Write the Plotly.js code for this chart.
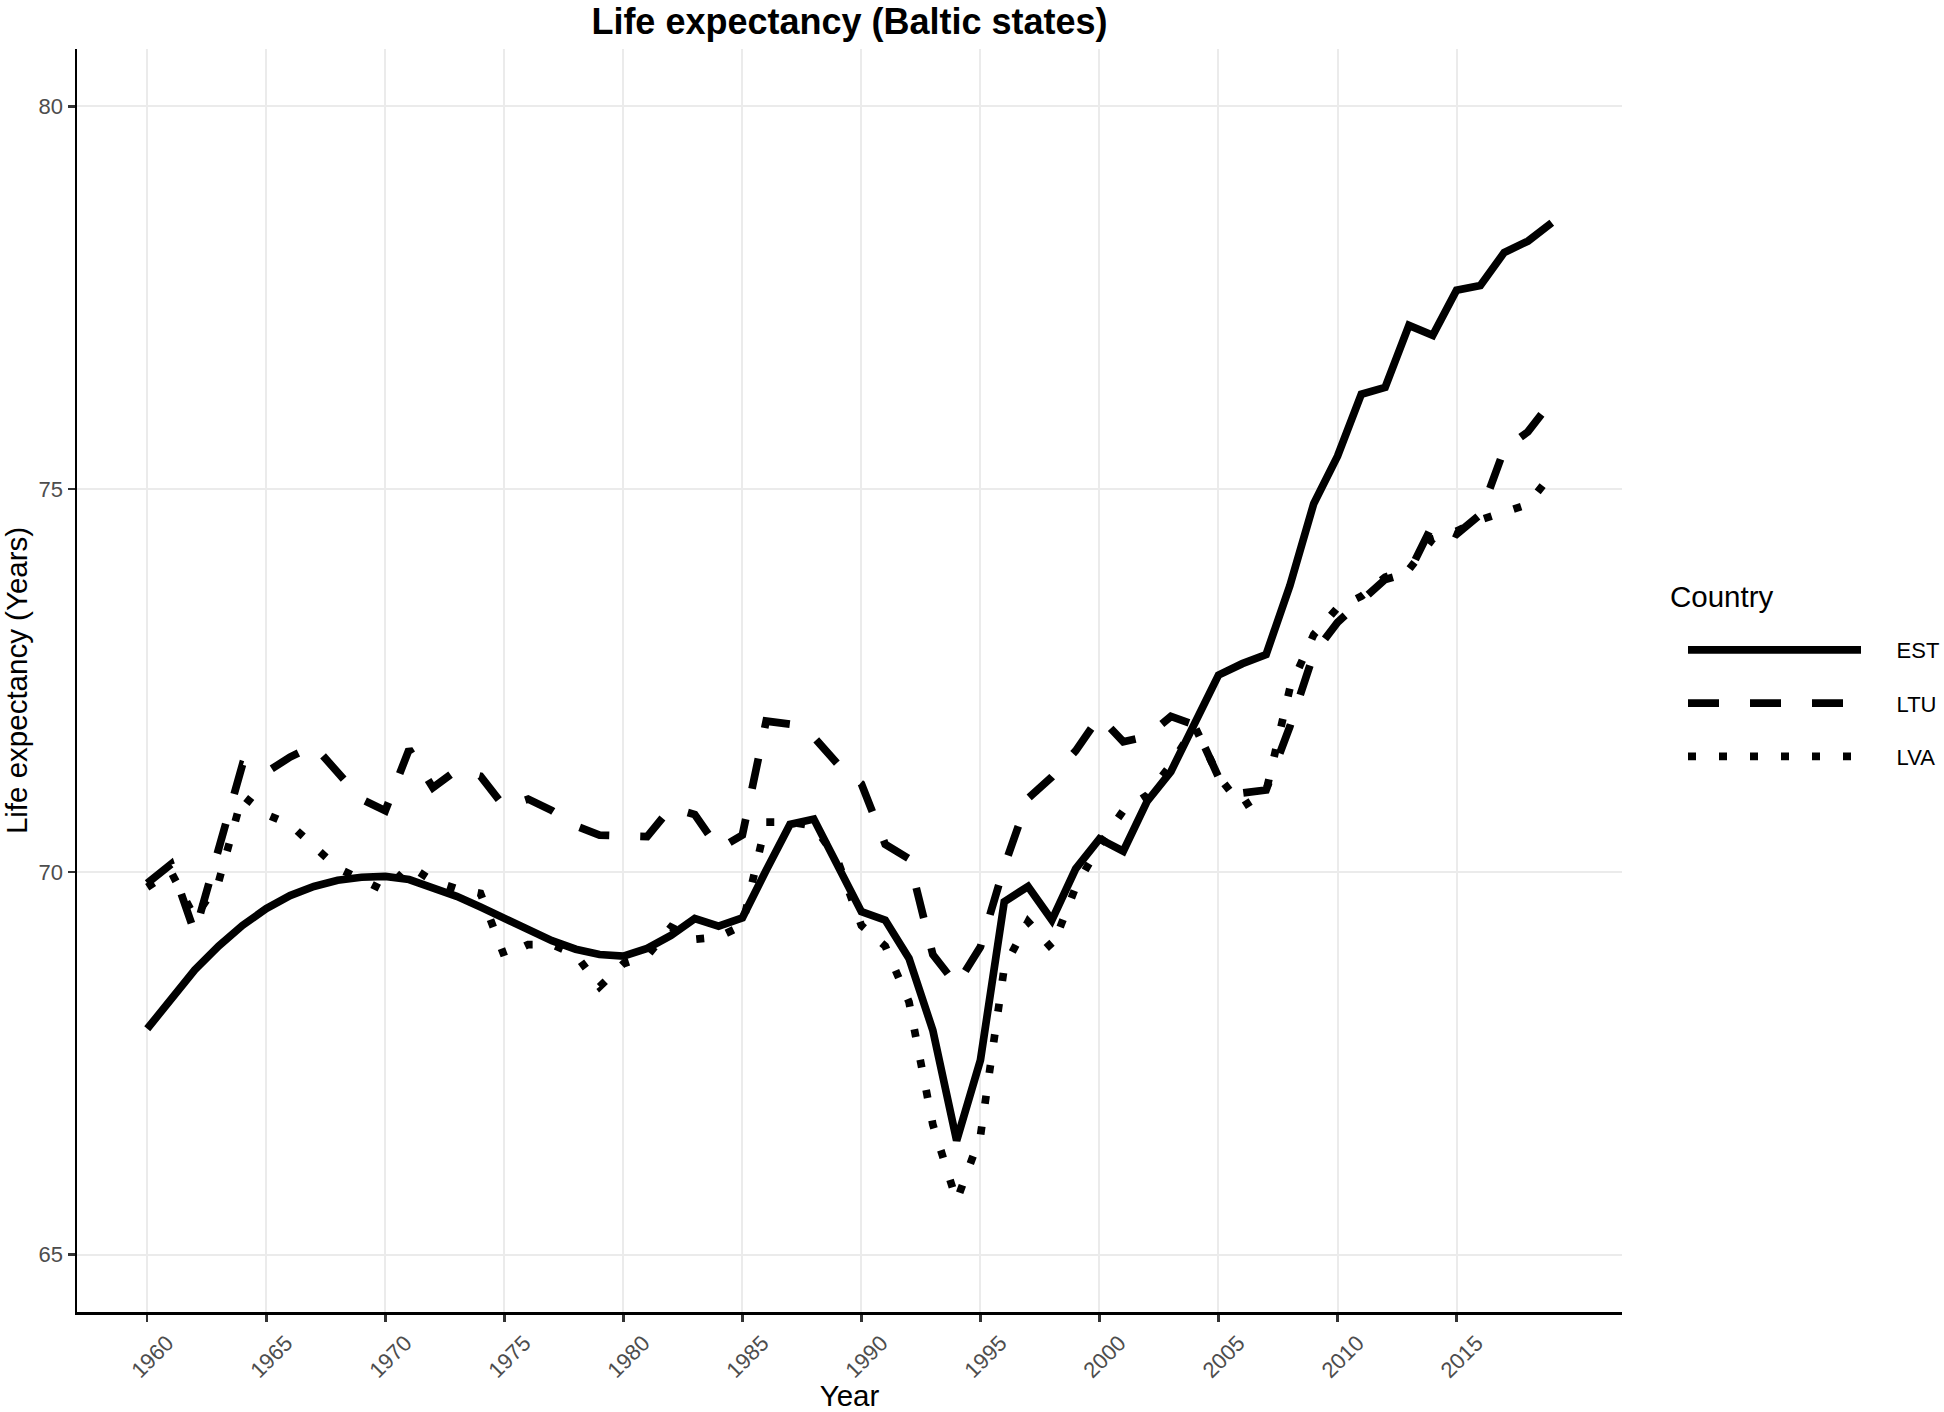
<!DOCTYPE html>
<html><head><meta charset="utf-8">
<script src="https://cdn.plot.ly/plotly-3.0.1.min.js"></script>
<style>html,body{margin:0;padding:0;background:#fff}#chart{width:1944px;height:1412px}</style>
</head><body><div id="chart"></div>
<script>
const years = [1960,1961,1962,1963,1964,1965,1966,1967,1968,1969,1970,1971,1972,1973,1974,1975,1976,1977,1978,1979,
1980,1981,1982,1983,1984,1985,1986,1987,1988,1989,1990,1991,1992,1993,1994,1995,1996,1997,1998,1999,
2000,2001,2002,2003,2004,2005,2006,2007,2008,2009,2010,2011,2012,2013,2014,2015,2016,2017,2018,2019];

const est = [67.95,68.35,68.72,69.03,69.30,69.52,69.69,69.81,69.89,69.93,69.94,69.90,69.80,69.68,69.54,69.39,69.24,69.10,68.99,68.92,
68.90,69.00,69.17,69.39,69.29,69.40,70.02,70.62,70.69,70.08,69.48,69.37,68.87,67.93,66.49,67.54,69.61,69.81,69.37,70.04,
70.43,70.27,70.92,71.31,71.94,72.57,72.72,72.84,73.74,74.81,75.43,76.24,76.33,77.14,77.01,77.60,77.66,78.09,78.24,78.48];

const ltu = [69.85,70.10,69.20,70.30,71.40,71.30,71.50,71.65,71.30,70.95,70.80,71.60,71.10,71.33,71.25,70.85,70.95,70.80,70.60,70.48,
70.47,70.46,70.84,70.75,70.30,70.48,71.97,71.93,71.76,71.41,71.15,70.36,70.17,68.92,68.52,69.02,70.07,70.96,71.24,71.58,
72.03,71.70,71.77,72.03,71.92,71.24,71.03,71.07,71.90,72.85,73.26,73.54,73.82,73.91,74.54,74.41,74.67,75.52,75.75,76.15];

const lva = [69.80,70.00,69.40,69.87,71.00,70.75,70.62,70.34,70.05,69.90,69.75,70.08,69.88,69.78,69.72,68.90,69.05,69.05,68.92,68.50,
68.80,68.90,69.28,69.12,69.15,69.30,70.65,70.65,70.60,70.15,69.30,69.03,68.30,66.70,65.70,66.55,68.75,69.35,69.00,69.80,
70.35,70.80,71.00,71.40,71.90,71.25,70.85,71.05,72.40,73.10,73.45,73.60,73.85,73.95,74.35,74.45,74.60,74.70,74.80,75.20];

const countries = ['EST','LTU','LVA'];
const seriesValues = [est, ltu, lva];
const dashes = ['solid','31px,31px','8px,23px'];
const xTicks = [1960,1965,1970,1975,1980,1985,1990,1995,2000,2005,2010,2015];
const yTicks = [65,70,75,80];
const legendTitle = 'Country';

const FONT = 'Liberation Sans, Arial, sans-serif';
const NB = '\u00A0\u00A0\u00A0\u00A0\u00A0';

const traces = countries.map((c,i)=>({
  type:'scatter', mode:'lines', name:NB + c, x:years, y:seriesValues[i],
  legendgroup:c,
  line:{color:'#000000', width:7.7, dash:dashes[i]},
  hoverinfo:'x+y'
}));

const W = 1944, H = 1412, L = 77, R = 322, T = 49, B = 100;
const PW = W - L - R, PH = H - T - B;

const layout = {
  width:W, height:H,
  margin:{l:L, r:R, t:T, b:B, autoexpand:false},
  paper_bgcolor:'#ffffff', plot_bgcolor:'#ffffff',
  font:{family:FONT, color:'#000000'},
  title:{text:'<b>Life expectancy (Baltic states)</b>', font:{family:FONT, size:36, color:'#000000'},
    x:0.5, xref:'paper', xanchor:'center', y:1-21/H, yref:'container', yanchor:'middle'},
  xaxis:{
    range:[1957.05, 2021.95], tickmode:'array', tickvals:xTicks, ticktext:xTicks.map(String),
    tickangle:-45, ticks:'outside', ticklen:7, tickwidth:2.5, tickcolor:'#333333',
    tickfont:{family:FONT, size:22, color:'#4D4D4D'},
    ticklabelshift:20,
    showgrid:true, gridcolor:'#EBEBEB', gridwidth:2, zeroline:false,
    showline:true, linecolor:'#000000', linewidth:2.5,
    title:{text:'Year', font:{family:FONT, size:29.5, color:'#000000'}, standoff:20},
    automargin:false
  },
  yaxis:{
    range:[64.25, 80.75], tickmode:'array', tickvals:yTicks, ticktext:yTicks.map(String),
    ticks:'outside', ticklen:7, tickwidth:2.5, tickcolor:'#333333',
    tickfont:{family:FONT, size:22, color:'#4D4D4D'},
    showgrid:true, gridcolor:'#EBEBEB', gridwidth:2, zeroline:false,
    showline:true, linecolor:'#000000', linewidth:2.5,
    title:{text:'Life expectancy (Years)', font:{family:FONT, size:29.5, color:'#000000'}, standoff:4},
    automargin:false
  },
  showlegend:true,
  legend:{
    x:(1683-L)/PW, xanchor:'left', xref:'paper',
    y:(H-B-629)/PH, yanchor:'top', yref:'paper',
    font:{family:FONT, size:22, color:'#000000'},
    itemwidth:173, traceorder:'grouped', tracegroupgap:21.7,
    bgcolor:'rgba(0,0,0,0)', borderwidth:0
  },
  annotations:[{
    text:legendTitle, xref:'paper', yref:'paper',
    x:(1668-L)/PW, y:(H-B-596)/PH, xanchor:'left', yanchor:'middle',
    showarrow:false, font:{family:FONT, size:29.5, color:'#000000'}
  }]
};

Plotly.newPlot('chart', traces, layout, {displayModeBar:false, staticPlot:true});
</script>
</body></html>
